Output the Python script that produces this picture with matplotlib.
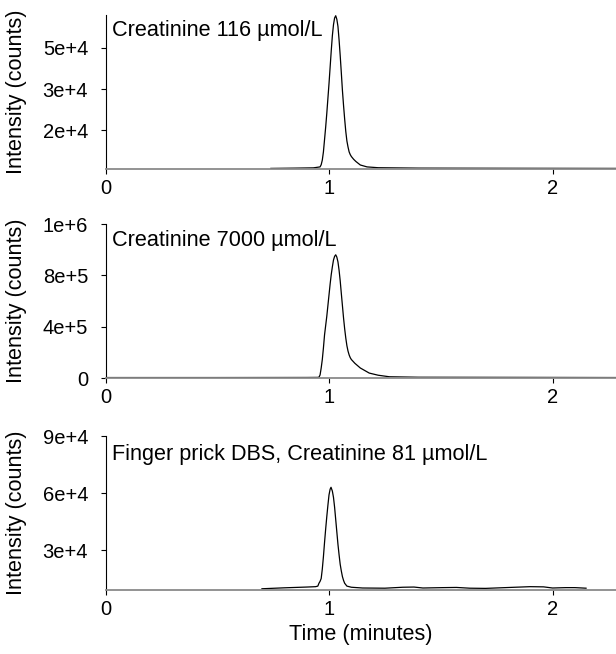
import matplotlib
matplotlib.use("Agg")
import matplotlib.pyplot as plt

plt.rcParams['font.family'] = ['Liberation Sans', 'DejaVu Sans']

# chromatogram traces (time in minutes, intensity in counts)
t_116 = [0.74, 0.85, 0.93, 0.960, 0.965, 0.970, 0.975, 0.980, 0.985, 0.990, 0.995, 1.000,
         1.005, 1.010, 1.015, 1.020, 1.025, 1.030, 1.035, 1.040, 1.045, 1.050, 1.055, 1.060,
         1.065, 1.070, 1.075, 1.080, 1.085, 1.090, 1.095, 1.100, 1.110, 1.120, 1.140, 1.170,
         1.220, 1.400, 1.800, 2.300]
i_116 = [5950, 6050, 6150, 6500, 7300, 9000, 12000, 16500, 21000, 26000, 31500, 37000,
         43000, 49000, 54500, 58500, 61000, 61800, 60500, 57900, 53000, 47300, 41000, 34500,
         29000, 24000, 19500, 16000, 13800, 12000, 11000, 10300, 9300, 8500, 7200, 6500,
         6200, 6050, 6000, 5950]

t_7000 = [0.00, 0.50, 0.90, 0.950, 0.955, 0.960, 0.965, 0.970, 0.975, 0.980, 0.985, 0.990,
          0.995, 1.000, 1.005, 1.010, 1.015, 1.020, 1.025, 1.030, 1.035, 1.040, 1.045, 1.050,
          1.055, 1.060, 1.065, 1.070, 1.075, 1.080, 1.085, 1.090, 1.095, 1.100, 1.116, 1.140,
          1.180, 1.220, 1.270, 1.400, 1.900, 2.300]
i_7000 = [3000, 3000, 3500, 4000, 5000, 20000, 65000, 120000, 195000, 280000, 340000, 400000,
          470000, 540000, 610000, 672000, 722000, 766000, 790000, 800000, 785000, 754000, 700000,
          632000, 550000, 470000, 390000, 320000, 260000, 210000, 175000, 150000, 132000, 120000,
          95000, 65000, 32000, 18000, 8000, 5000, 4000, 3000]

t_dbs = [0.70, 0.80, 0.90, 0.94, 0.950, 0.955, 0.960, 0.965, 0.970, 0.975, 0.980, 0.985,
         0.990, 0.995, 1.000, 1.005, 1.009, 1.015, 1.020, 1.025, 1.030, 1.035, 1.040, 1.045,
         1.050, 1.055, 1.060, 1.065, 1.070, 1.080, 1.100, 1.150, 1.250, 1.330, 1.380, 1.420,
         1.510, 1.570, 1.630, 1.700, 1.810, 1.900, 1.960, 2.000, 2.060, 2.100, 2.150]
i_dbs = [9600, 10100, 10500, 10700, 11000, 12500, 13500, 15000, 20000, 26500, 34000, 41000,
         47500, 53500, 59000, 62000, 63000, 61000, 57700, 52500, 46000, 39500, 33000, 27500,
         22500, 19000, 16000, 14000, 12500, 11000, 10400, 10000, 9900, 10400, 10500, 10000,
         10200, 10300, 9900, 9800, 10300, 10700, 10600, 10000, 10200, 10200, 9900]

labels = ["Creatinine 116 \u00b5mol/L", "Creatinine 7000 \u00b5mol/L",
          "Finger prick DBS, Creatinine 81 \u00b5mol/L"]
yticks = [[20000, 35000, 50000], [0, 1e6 / 3, 2e6 / 3, 1e6], [30000, 60000, 90000]]
yticklabels = [["2e+4", "3e+4", "5e+4"], ["0", "4e+5", "8e+5", "1e+6"], ["3e+4", "6e+4", "9e+4"]]
ylims = [(5732, 62073), (0, 1e6), (8950, 90000)]
xticks = [0, 1, 2]

fig = plt.figure(figsize=(6.16, 6.54), dpi=100)
bottoms = [1 - 169 / 654, 1 - 378 / 654, 1 - 590 / 654]
traces = [(t_116, i_116), (t_7000, i_7000), (t_dbs, i_dbs)]
text_y = [0.90, 0.896, 0.877]
fs_tick = 14.5
fs_text = 15.6

for k in range(3):
    ax = fig.add_axes([105.5 / 616, bottoms[k], 1 - 105.5 / 616, 154 / 654])
    t, y = traces[k]
    ax.plot(t, y, color='black', lw=0.9)
    ax.set_xlim(0, 2.284)
    ax.set_ylim(*ylims[k])
    ax.set_xticks(xticks)
    ax.set_xticklabels([str(v) for v in xticks])
    ax.set_yticks(yticks[k])
    ax.set_yticklabels(yticklabels[k])
    for s in ['top', 'right']:
        ax.spines[s].set_visible(False)
    ax.spines['left'].set_linewidth(0.8)
    ax.spines['bottom'].set_color('#8a8a8a')
    ax.spines['bottom'].set_linewidth(1.3)
    ax.tick_params(axis='both', direction='out', length=3.5, width=0.8,
                   labelsize=fs_tick, colors='black')
    ax.tick_params(axis='x', pad=4)
    ax.tick_params(axis='y', pad=9)
    ax.set_ylabel("Intensity (counts)", fontsize=fs_text)
    ax.yaxis.set_label_coords(-0.154, 0.5)
    ax.text(0.013, text_y[k], labels[k], transform=ax.transAxes, fontsize=fs_text,
            ha='left', va='center')
    if k == 2:
        ax.set_xlabel("Time (minutes)", fontsize=fs_text, labelpad=3)

fig.savefig("out.png", dpi=100)
